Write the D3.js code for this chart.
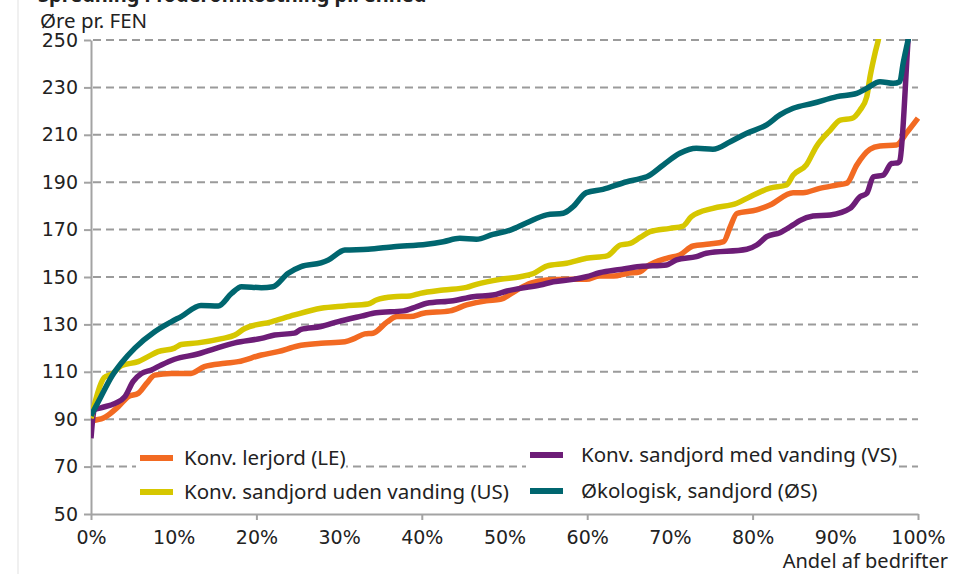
<!DOCTYPE html>
<html>
<head>
<meta charset="utf-8">
<script src="https://cdn.jsdelivr.net/npm/d3@7"></script>
<style>
  body { margin: 0; background: #fff; }
  svg { display: block; font-family: "Noto Sans", sans-serif; }
</style>
</head>
<body>
<div id="chart"></div>
<script>
// andel af bedrifter (%) / øre pr. FEN
const seriesNames = ["Konv. lerjord (LE)", "Konv. sandjord uden vanding (US)", "Konv. sandjord med vanding (VS)", "Økologisk, sandjord (ØS)"];
const seriesColors = ["#f26a22", "#d6c700", "#6d1d77", "#00666f"];

const le = [[0,89],[0.4,89.5],[1.5,90.5],[2.1,91.8],[3.3,95.3],[4.5,99.5],[5.7,100.9],[6.7,105],[7.7,108.6],[9.7,109.3],[12.1,109.3],[13.7,112.2],[16.2,113.6],[17.8,114.3],[20.6,117.1],[22.6,118.5],[25,120.9],[27.8,122],[30.7,122.7],[31.9,124.1],[33.1,126],[34.1,126.3],[35.8,131],[37,133.3],[38.6,133.3],[40.2,134.7],[43.4,135.7],[45.4,138.2],[47.8,140],[49.5,140.6],[51.5,144.5],[53.1,147.3],[55.1,148.7],[57.5,149],[59.9,149],[61.5,150.4],[63.2,150.4],[64.8,151.5],[66.4,152.2],[67.2,154.4],[69.6,157.9],[71.2,159.3],[72.8,163.1],[74.8,163.9],[76.5,164.9],[77.3,171.2],[78.1,176.8],[80.5,178.3],[82.1,180.4],[84.9,185.6],[86.1,185.6],[88.1,187.4],[90.2,188.8],[91.4,189.6],[92.6,197.3],[94.2,203.9],[95.4,205.3],[97.4,205.7],[98.6,210.7],[100,217]];

const us = [[0,90.4],[1.2,105],[1.6,107.6],[2.5,109],[3.7,112.6],[5.7,114.3],[6.9,116.4],[8.1,118.5],[10.1,120],[10.9,121.5],[12.9,122.2],[15.8,124],[17.4,125.5],[18.6,128.3],[21.8,131.1],[24.6,134],[27.8,136.8],[30.7,137.8],[33.5,138.6],[34.5,140.3],[36.6,141.7],[38.6,142],[39.8,143.1],[42.6,144.5],[45.4,145.6],[46.6,146.9],[49.5,149],[51.9,150.1],[53.5,151.5],[55.1,154.6],[57.5,155.8],[59.9,157.9],[62.4,158.9],[64,163.5],[65.2,164.2],[66.4,166.7],[67.6,169.1],[70,170.5],[71.6,171.5],[72.6,175.5],[75.2,179],[78.1,181.1],[79.7,183.9],[82.1,187.5],[84.1,188.8],[84.9,193],[86.5,197.3],[87.7,205],[89.4,212],[90.6,216.2],[92,216.9],[93,220.5],[93.8,226],[94.2,234.5],[94.8,244.4],[95.2,250],[96,268]];

const vs = [[0,82],[0.4,93.9],[1.2,94.8],[2.9,96.7],[4.1,99.5],[5.1,106],[6.1,109.3],[7.3,110.8],[8.5,112.9],[10.1,115.3],[12.9,117.5],[15,119.8],[17.4,122.2],[20.6,124.1],[22.2,125.5],[24.6,126.3],[25.4,127.9],[27.8,129.1],[29.9,131.2],[32.7,133.5],[34.5,134.9],[37.8,135.7],[39.4,137.5],[40.6,138.9],[43.8,140],[46.2,141.7],[48.6,142.4],[50.3,144.1],[51.9,145.2],[54.3,146.6],[55.9,148],[58.3,149],[59.9,150.1],[61.5,151.8],[64,153.2],[66.4,154.4],[69.6,155.1],[70.8,157.2],[73.2,158.6],[74.4,160],[79.3,161.7],[80.5,163.5],[81.7,167],[83.3,168.7],[84.9,172],[85.7,173.8],[87.3,175.7],[89.4,176.2],[91.8,179],[93,183.9],[93.8,185.3],[94.6,192.3],[95.8,193],[96.8,197.9],[97.6,198.2],[97.8,199],[98.8,250],[99.2,270]];

const os = [[0,91.5],[1.2,99.5],[2.5,108],[3.7,113.8],[5.3,120],[7.7,126.9],[9.7,131.1],[10.9,133.3],[13.3,138],[15.4,137.8],[17,143.1],[18.2,145.9],[20.6,145.5],[22,145.9],[23.8,151.5],[25.4,154.4],[27.8,156],[28.7,157.2],[30.7,161.4],[33.5,161.7],[36.6,162.8],[40.6,163.8],[42.6,164.9],[44.6,166.3],[46.6,165.9],[48.6,168],[50.7,169.8],[52.7,172.9],[55.1,176.2],[57.1,176.9],[58.3,179.7],[59.9,185.6],[61.9,187],[64.8,190.2],[66.4,191.5],[67.2,192.3],[69.2,197.3],[71.2,202.2],[73.2,204.3],[75.2,203.9],[77.3,207.1],[79.3,210.7],[81.7,214.2],[83.3,218.4],[84.9,221.2],[87.3,223.3],[90.2,226.1],[92.6,227.5],[93.8,229.6],[95.4,232.4],[97,231.7],[97.8,232.4],[98.2,240.1],[98.8,250],[100,270]];

const yTicks = [50, 70, 90, 110, 130, 150, 170, 190, 210, 230, 250];
const xTicks = [0, 10, 20, 30, 40, 50, 60, 70, 80, 90, 100];

const width = 958, height = 574,
  margin = { top: 40, right: 40, bottom: 60, left: 91 };

const svg = d3.select("#chart").append("svg")
  .attr("width", width).attr("height", height);

const x = d3.scaleLinear([0, 100], [margin.left, width - margin.right]);
const y = d3.scaleLinear([50, 250], [height - margin.bottom, margin.top]);

// faint page edge
svg.append("rect").attr("x", 17).attr("y", 0).attr("width", 2).attr("height", height).attr("fill", "#f0f0f0");

// cut-off title
svg.append("text")
  .attr("x", 38).attr("y", 2)
  .attr("font-weight", "bold").attr("font-size", 20).attr("fill", "#222")
  .text("Spredning i foderomkostning pr. enhed");

svg.append("text")
  .attr("x", 40).attr("y", 28)
  .attr("font-size", 20.5).attr("fill", "#222")
  .text("Øre pr. FEN");

// grid
svg.append("g")
  .selectAll("line")
  .data(yTicks.slice(1))
  .join("line")
  .attr("x1", x(0) + 2).attr("x2", x(100))
  .attr("y1", d => y(d)).attr("y2", d => y(d))
  .attr("stroke", "#9b9b9b").attr("stroke-width", 2)
  .attr("stroke-dasharray", "8,5");

// y axis
const yAxis = svg.append("g")
  .attr("transform", `translate(${x(0)},0)`)
  .call(d3.axisLeft(y).tickValues(yTicks).tickSize(7).tickPadding(6).tickSizeOuter(0));
yAxis.select(".domain").attr("stroke", "#a3a3a3").attr("stroke-width", 2);
yAxis.selectAll(".tick line").attr("stroke", "#a3a3a3").attr("stroke-width", 2);
yAxis.selectAll(".tick text").attr("font-size", 19).attr("fill", "#222").attr("font-family", "DejaVu Sans");

// x axis
const xAxis = svg.append("g")
  .attr("transform", `translate(0,${y(50)})`)
  .call(d3.axisBottom(x).tickValues(xTicks).tickFormat(d => d + "%").tickSize(0).tickPadding(17).tickSizeOuter(0));
xAxis.select(".domain").attr("stroke", "#a3a3a3").attr("stroke-width", 2);
xAxis.selectAll(".tick text").attr("font-size", 19).attr("fill", "#222").attr("font-family", "DejaVu Sans");
xAxis.selectAll(".tick").filter(d => d % 20 === 0)
  .append("line").attr("y2", 6).attr("stroke", "#a3a3a3").attr("stroke-width", 2);

svg.append("text")
  .attr("x", 948).attr("y", 568)
  .attr("text-anchor", "end")
  .attr("font-size", 20).attr("fill", "#222")
  .text("Andel af bedrifter");

// legend
const legendPos = [[140, 458], [140, 492], [530, 455], [530, 491]];
const legendTextX = [44, 44, 51, 51];
const legend = svg.selectAll(".legend-item")
  .data(seriesNames)
  .join("g")
  .attr("class", "legend-item")
  .attr("transform", (d, i) => `translate(${legendPos[i][0]},${legendPos[i][1]})`);

legend.append("rect")
  .attr("x", -4).attr("y", -14)
  .attr("width", (d, i) => i === 0 ? 210 : 372)
  .attr("height", 28)
  .attr("fill", "#fff");

legend.append("line")
  .attr("x1", 0).attr("x2", 33)
  .attr("stroke", (d, i) => seriesColors[i])
  .attr("stroke-width", 6);

legend.append("text")
  .attr("x", (d, i) => legendTextX[i]).attr("y", 7)
  .attr("font-size", 20.5).attr("fill", "#222")
  .text(d => d);

// lines
svg.append("clipPath").attr("id", "plot-clip")
  .append("rect")
  .attr("x", x(0)).attr("y", y(250) - 1)
  .attr("width", x(100) - x(0) + 10).attr("height", y(50) - y(250));

const line = d3.line()
  .x(d => x(d[0]))
  .y(d => y(d[1]))
  .curve(d3.curveMonotoneX);

const seriesData = [le, vs, us, os];
const seriesColorOrder = [seriesColors[0], seriesColors[2], seriesColors[1], seriesColors[3]];

svg.append("g")
  .attr("clip-path", "url(#plot-clip)")
  .selectAll("path")
  .data(seriesData)
  .join("path")
  .attr("d", line)
  .attr("fill", "none")
  .attr("stroke", (d, i) => seriesColorOrder[i])
  .attr("stroke-width", 5.5)
  .attr("stroke-linejoin", "round");
</script>
</body>
</html>
